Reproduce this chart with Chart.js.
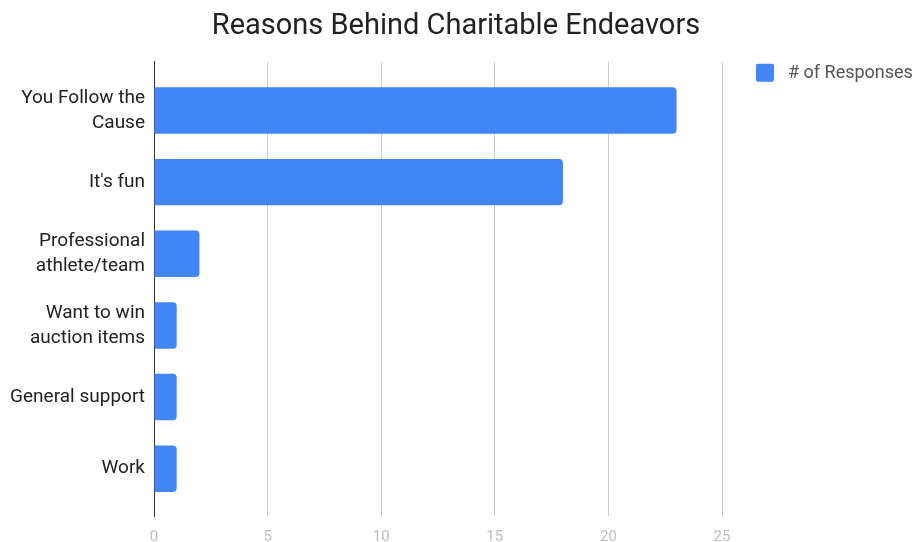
<!DOCTYPE html>
<html><head><meta charset="utf-8">
<script src="https://cdn.jsdelivr.net/npm/chart.js@4.4.1/dist/chart.umd.min.js"></script>
<style>html,body{margin:0;padding:0;background:#fff}</style>
</head><body>
<canvas id="c" width="912" height="542"></canvas>
<script>
const chartTitle = "Reasons Behind Charitable Endeavors";
const seriesName = "# of Responses";
const categories = [["You Follow the", "Cause"], "It's fun", ["Professional", "athlete/team"], ["Want to win", "auction items"], "General support", "Work"];
const responses = [23, 18, 2, 1, 1, 1];
const xTicks = [0, 5, 10, 15, 20, 25];

const legendPlugin = {
  id: 'customLegend',
  afterDraw(chart) {
    const ctx = chart.ctx, a = chart.chartArea;
    const x = a.right + 34, y = a.top + 2;
    ctx.save();
    ctx.fillStyle = chart.data.datasets[0].backgroundColor;
    ctx.beginPath();
    if (ctx.roundRect) ctx.roundRect(x, y, 18, 18, 2); else ctx.rect(x, y, 18, 18);
    ctx.fill();
    ctx.fillStyle = '#555';
    ctx.font = '18px Roboto';
    ctx.textBaseline = 'middle';
    ctx.fillText(chart.data.datasets[0].label, x + 32, y + 10);
    ctx.restore();
  }
};

const noPad = (s) => { s.paddingTop = 0; s.paddingBottom = 0; s.paddingLeft = 0; s.paddingRight = 0; };

new Chart(document.getElementById('c'), {
  type: 'bar',
  data: {
    datasets: [{
      label: seriesName,
      data: responses.map((v, i) => ({ x: v, y: i })),
      backgroundColor: '#4285f4',
      borderRadius: 4,
      borderSkipped: 'start',
      categoryPercentage: 0.8,
      barPercentage: 0.81
    }]
  },
  options: {
    indexAxis: 'y',
    responsive: false,
    animation: false,
    devicePixelRatio: 1,
    layout: { padding: 0 },
    plugins: {
      legend: { display: false },
      tooltip: { enabled: false },
      title: {
        display: true,
        text: chartTitle,
        color: '#222',
        font: { family: 'Roboto', size: 29, weight: 'normal' },
        padding: { top: 9, bottom: 18 }
      }
    },
    scales: {
      x: {
        type: 'linear',
        position: 'bottom',
        min: 0,
        max: 25,
        afterBuildTicks: (s) => { s.ticks = xTicks.map(v => ({ value: v })); },
        afterFit: (s) => { s.height = 26; noPad(s); },
        ticks: { color: '#bdbdbd', font: { family: 'Roboto', size: 15 }, padding: 12 },
        grid: {
          color: (c) => (c.tick && c.tick.value === 0) ? '#333' : '#cccccc',
          drawTicks: false
        },
        border: { display: false }
      },
      y: {
        type: 'linear',
        reverse: true,
        offset: false,
        min: -0.68,
        max: 5.66,
        afterBuildTicks: (s) => { s.ticks = categories.map((c, i) => ({ value: i })); },
        afterFit: (s) => { s.width = 154; noPad(s); },
        ticks: {
          callback: (v) => categories[v],
          color: '#222',
          font: { family: 'Roboto', size: 19, lineHeight: 25 / 19 },
          padding: 9,
          autoSkip: false
        },
        grid: { display: false, drawTicks: false, offset: false },
        border: { display: true, color: '#333', width: 1 }
      },
      legendSpace: {
        type: 'linear',
        position: 'right',
        display: true,
        afterFit: (s) => { s.width = 190; noPad(s); },
        ticks: { display: false },
        grid: { display: false, drawTicks: false },
        border: { display: false }
      }
    }
  },
  plugins: [legendPlugin]
});
</script>
</body></html>
